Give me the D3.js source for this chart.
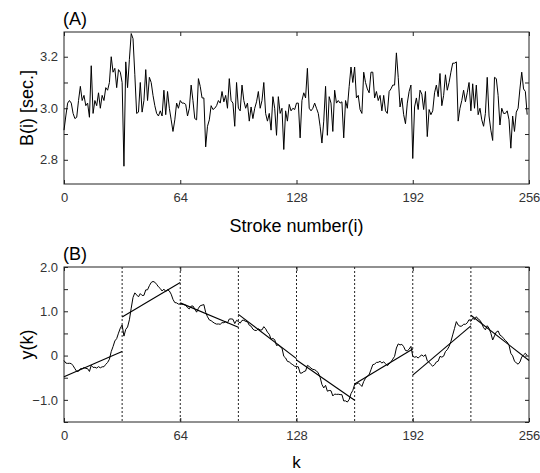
<!DOCTYPE html>
<html>
<head>
<meta charset="utf-8">
<script src="https://cdn.jsdelivr.net/npm/d3@7"></script>
<style>
body { margin: 0; background: #fff; }
</style>
</head>
<body>
<svg></svg>
<script>
// beat-to-beat stroke intervals B(i)
var strokeIntervals = [
    2.915, 2.97, 3.02, 3.03, 3.02, 2.98, 2.96, 2.965, 3.03, 3.085,
    3.03, 3.05, 3.01, 3.02, 2.965, 3.165, 2.98, 3.03, 3.01, 3.06,
    3.0, 3.05, 3.03, 3.08, 3.07, 3.1, 3.2, 3.14, 3.155, 3.08,
    3.15, 3.14,
    3.10, 2.775, 3.18, 3.08, 3.19, 3.29, 3.27, 3.13, 2.98, 2.985,
    3.10, 2.985, 3.03, 3.15, 3.03, 3.12, 3.10, 3.05, 3.01, 2.98,
    2.97, 2.99, 2.97, 3.07, 2.975, 3.065, 3.0, 2.955, 2.91, 2.955,
    3.02, 3.0,
    3.03, 3.02, 3.02, 3.015, 2.97, 3.0, 3.09, 3.03, 2.96, 2.955,
    3.115, 3.085, 3.04, 3.04, 2.85, 2.93, 2.955, 3.01, 2.995, 3.0,
    3.01, 3.03, 3.02, 3.065, 3.025, 3.05, 3.0, 3.115, 3.03, 3.02,
    2.93, 3.10,
    3.0, 2.99, 3.09, 3.03, 3.0, 3.02, 2.95, 3.005, 2.96, 3.0,
    3.025, 3.065, 3.0, 3.03, 3.10, 2.98, 2.95, 2.98, 2.915, 3.045,
    3.0, 2.895, 3.045, 2.98, 3.0, 2.84, 2.99, 2.95, 3.015, 2.99,
    3.0, 2.995,
    3.02, 3.02, 2.885, 3.03, 3.06, 3.04, 3.155, 3.0, 2.99, 3.0,
    3.02, 3.0, 2.98, 2.93, 2.865, 2.95, 3.085, 2.895, 3.045, 3.02,
    2.91, 3.07, 3.02, 3.03, 3.02, 3.025, 2.885, 3.03, 3.0, 3.085,
    3.16, 3.10,
    3.16, 3.04, 3.05, 2.995, 2.98, 3.14, 3.10, 3.075, 3.06, 3.14,
    3.14, 3.04, 3.065, 3.03, 3.05, 2.99, 3.05, 2.99, 2.98, 3.065,
    3.075, 3.09, 3.09, 3.215, 3.12, 3.005, 3.04, 2.975, 2.94, 3.02,
    3.065, 3.09,
    2.805, 3.005, 3.04, 2.995, 3.07, 3.055, 2.995, 3.065, 2.89, 2.995,
    2.975, 2.99, 3.06, 3.09, 3.045, 3.135, 3.01, 3.05, 3.13, 3.07,
    3.10, 3.14, 3.175, 3.175, 3.18, 2.95, 3.0, 3.03, 3.07, 3.025,
    3.06, 3.10,
    2.99, 3.095, 3.0, 3.09, 2.975, 3.0, 2.955, 2.93, 2.98, 3.12,
    2.97, 2.915, 2.875, 3.12, 3.115, 3.05, 2.935, 3.0, 2.98, 2.98,
    2.99, 2.955, 2.845, 2.97, 2.91, 2.985, 3.0, 3.075, 3.14, 3.075,
    3.065, 2.975
];

// box boundaries and local linear trends of panel (B)
var boxEdges = [0, 32, 64, 96, 128, 160, 192, 224, 256];
var fitStart = [-0.48, 0.87, 1.19, 0.93, -0.10, -0.64, -0.44, 0.91];
var fitEnd = [0.09, 1.65, 0.64, -0.07, -1.01, 0.15, 0.67, -0.11];

var xTicks = [0, 64, 128, 192, 256];
var yTicksA = [2.8, 2.9, 3.0, 3.1, 3.2];
var yLabelsA = [2.8, 3.0, 3.2];
var yTicksB = [-1.5, -1.0, -0.5, 0, 0.5, 1.0, 1.5, 2.0];
var yLabelsB = [-1.0, 0, 1.0, 2.0];

var svgWidth = 540, svgHeight = 473;
var svg = d3.select('svg')
    .attr('width', svgWidth)
    .attr('height', svgHeight);

var left = 64, right = 529;
var font = 'Liberation Sans, Arial, Helvetica, sans-serif';

// profile y(k): cumulative sum of deviations from the mean
var meanB = d3.mean(strokeIntervals);
var profile = [];
var acc = 0;
strokeIntervals.forEach(function (v) {
    acc += v - meanB;
    profile.push(acc);
});

function drawPanel(top, bottom, yDomain, yTicks, yLabels, fmt) {
    var x = d3.scaleLinear().domain([0, 256]).range([left, right]);
    var y = d3.scaleLinear().domain(yDomain).range([bottom, top]);

    var g = svg.append('g');

    // inward ticks on all four sides
    g.append('g')
        .attr('transform', 'translate(' + left + ',0)')
        .call(d3.axisLeft(y).tickValues(yTicks).tickSize(-4).tickPadding(6)
            .tickFormat(function (d) {
                return yLabels.some(function (l) { return Math.abs(l - d) < 1e-9; }) ? fmt(d) : '';
            }));
    g.append('g')
        .attr('transform', 'translate(' + right + ',0)')
        .call(d3.axisRight(y).tickValues(yTicks).tickSize(-4).tickFormat(''));
    g.append('g')
        .attr('transform', 'translate(0,' + bottom + ')')
        .call(d3.axisBottom(x).tickValues(xTicks).tickSize(-4).tickPadding(9)
            .tickFormat(d3.format('d')));
    g.append('g')
        .attr('transform', 'translate(0,' + top + ')')
        .call(d3.axisTop(x).tickValues(xTicks).tickSize(-4).tickFormat(''));

    g.selectAll('.domain').remove();
    g.selectAll('.tick line').attr('stroke', '#222');
    g.selectAll('.tick text')
        .style('font-family', font)
        .style('font-size', '13px')
        .attr('fill', '#333');

    g.append('rect')
        .attr('x', left)
        .attr('y', top)
        .attr('width', right - left)
        .attr('height', bottom - top)
        .attr('fill', 'none')
        .attr('stroke', '#222')
        .attr('stroke-width', 1);

    return { x: x, y: y, g: g };
}

// ---------- panel (A) ----------
var topA = 32, bottomA = 184;
var pA = drawPanel(topA, bottomA, [2.706, 3.296], yTicksA, yLabelsA, d3.format('.1f'));

var lineA = d3.line()
    .x(function (d, i) { return pA.x(i); })
    .y(function (d) { return pA.y(d); });

pA.g.append('path')
    .datum(strokeIntervals)
    .attr('d', lineA)
    .attr('fill', 'none')
    .attr('stroke', '#000')
    .attr('stroke-width', 1);

svg.append('text')
    .attr('x', left - 1)
    .attr('y', topA - 7)
    .style('font-family', font)
    .style('font-size', '18px')
    .text('(A)');

svg.append('text')
    .attr('x', (left + right) / 2)
    .attr('y', bottomA + 48)
    .attr('text-anchor', 'middle')
    .style('font-family', font)
    .style('font-size', '18px')
    .text('Stroke number(i)');

svg.append('text')
    .attr('text-anchor', 'middle')
    .attr('transform', 'translate(33,' + (topA + bottomA) / 2 + ')rotate(-90)')
    .style('font-family', font)
    .style('font-size', '18px')
    .text('B(i) [sec.]');

// ---------- panel (B) ----------
var topB = 267, bottomB = 422;
var fmtB = function (d) { return d === 0 ? '0' : d3.format('.1f')(d); };
var pB = drawPanel(topB, bottomB, [-1.5, 2.0], yTicksB, yLabelsB, fmtB);

// dotted box boundaries
pB.g.selectAll('line.box')
    .data(boxEdges.slice(1, -1))
    .enter()
    .append('line')
    .attr('class', 'box')
    .attr('x1', function (d) { return pB.x(d); })
    .attr('x2', function (d) { return pB.x(d); })
    .attr('y1', topB)
    .attr('y2', bottomB)
    .attr('stroke', '#222')
    .attr('stroke-width', 1)
    .attr('stroke-dasharray', '2,2');

var lineB = d3.line()
    .x(function (d, i) { return pB.x(i); })
    .y(function (d) { return pB.y(d); });

pB.g.append('path')
    .datum(profile)
    .attr('d', lineB)
    .attr('fill', 'none')
    .attr('stroke', '#000')
    .attr('stroke-width', 1);

// local trend in each box
pB.g.selectAll('line.fit')
    .data(fitStart)
    .enter()
    .append('line')
    .attr('class', 'fit')
    .attr('x1', function (d, i) { return pB.x(boxEdges[i]); })
    .attr('x2', function (d, i) { return pB.x(boxEdges[i + 1]); })
    .attr('y1', function (d) { return pB.y(d); })
    .attr('y2', function (d, i) { return pB.y(fitEnd[i]); })
    .attr('stroke', '#000')
    .attr('stroke-width', 1.1);

svg.append('text')
    .attr('x', left - 1)
    .attr('y', topB - 7)
    .style('font-family', font)
    .style('font-size', '18px')
    .text('(B)');

svg.append('text')
    .attr('x', (left + right) / 2)
    .attr('y', bottomB + 46)
    .attr('text-anchor', 'middle')
    .style('font-family', font)
    .style('font-size', '17px')
    .text('k');

svg.append('text')
    .attr('text-anchor', 'middle')
    .attr('transform', 'translate(33,' + (topB + bottomB) / 2 + ')rotate(-90)')
    .style('font-family', font)
    .style('font-size', '18px')
    .text('y(k)');
</script>
</body>
</html>
